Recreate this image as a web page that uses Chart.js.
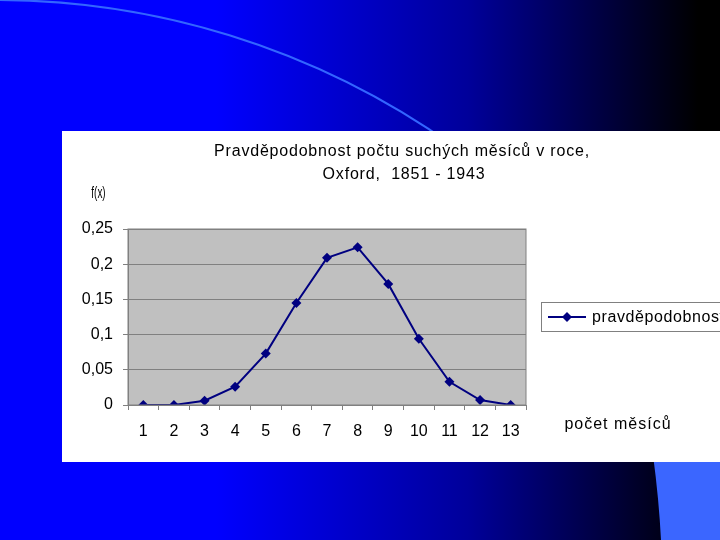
<!DOCTYPE html>
<html>
<head>
<meta charset="utf-8">
<script src="https://cdn.jsdelivr.net/npm/chart.js@4.4.1/dist/chart.umd.min.js"></script>
<style>
  html, body { margin: 0; padding: 0; background: #0000ff; }
  #wrap { width: 720px; height: 540px; position: relative; }
</style>
</head>
<body>
<div id="wrap"><canvas id="graf" width="720" height="540"></canvas></div>
<script>
const mesice = ['1', '2', '3', '4', '5', '6', '7', '8', '9', '10', '11', '12', '13']
const pravdepodobnost = [0, 0, 0.006, 0.026, 0.073, 0.145, 0.209, 0.224, 0.172, 0.094, 0.033, 0.007, 0]
const nazevRada = 'pravděpodobnost'
const titulek = ['Pravděpodobnost počtu suchých měsíců v roce,', 'Oxford,  1851 - 1943']
const osaY = 'f(x)'
const osaX = 'počet měsíců'

const pismo = '"Liberation Sans", Arial, sans-serif'
const modra = '#000080'

// pozadi slidu + bily ramecek
const pozadi = {
  id: 'pozadi',
  beforeDraw(chart) {
    const c = chart.ctx
    const { left, top, right, bottom } = chart.chartArea
    c.save()
    const g = c.createLinearGradient(0, 0, 720, 0)
    g.addColorStop(0.3, '#0000ff')
    g.addColorStop(0.65, '#00009a')
    g.addColorStop(0.97, '#000000')
    c.fillStyle = g
    c.fillRect(0, 0, 720, 540)

    // oblouk vlevo nahore
    c.strokeStyle = '#3366ff'
    c.lineWidth = 2
    c.beginPath()
    c.arc(-4, 790, 790, -Math.PI / 2 - 0.02, -Math.PI / 2 + 0.62)
    c.stroke()

    // svetle modra plocha vpravo dole
    c.fillStyle = '#3b66ff'
    c.beginPath()
    c.moveTo(653, 455)
    c.quadraticCurveTo(659, 500, 661, 540)
    c.lineTo(720, 540)
    c.lineTo(720, 455)
    c.closePath()
    c.fill()

    c.fillStyle = '#ffffff'
    c.fillRect(62, 131, 658, 331)

    c.fillStyle = '#c0c0c0'
    c.fillRect(left, top, right - left, bottom - top)
    c.restore()
  },
  afterDraw(chart) {
    const c = chart.ctx
    const { left, top, right, bottom } = chart.chartArea
    c.save()
    c.strokeStyle = '#808080'
    c.lineWidth = 1
    c.strokeRect(left, top, right - left, bottom - top)

    c.fillStyle = '#000000'
    c.font = '16px ' + pismo
    c.textAlign = 'center'
    c.textBaseline = 'middle'
    c.letterSpacing = '0.8px'
    c.fillText(titulek[0], 402, 152)
    c.fillText(titulek[1], 404, 175)
    c.letterSpacing = '1px'
    c.fillText(osaX, 618, 425)
    c.letterSpacing = '0px'

    // f(x) je v predloze uzke
    c.save()
    c.translate(98.5, 193)
    c.scale(0.62, 1.05)
    c.fillText(osaY, 0, 0)
    c.restore()

    // legenda
    c.strokeStyle = '#808080'
    c.strokeRect(541.5, 302.5, 190, 29)
    c.strokeStyle = modra
    c.lineWidth = 2
    c.beginPath()
    c.moveTo(548, 317)
    c.lineTo(586, 317)
    c.stroke()
    c.fillStyle = modra
    c.beginPath()
    c.moveTo(567, 312)
    c.lineTo(572, 317)
    c.lineTo(567, 322)
    c.lineTo(562, 317)
    c.closePath()
    c.fill()
    c.fillStyle = '#000000'
    c.textAlign = 'left'
    c.letterSpacing = '0.6px'
    c.fillText(chart.data.datasets[0].label, 592, 318)
    c.restore()
  }
}

new Chart(document.getElementById('graf'), {
  type: 'line',
  data: {
    labels: mesice,
    datasets: [{
      label: nazevRada,
      data: pravdepodobnost,
      borderColor: modra,
      backgroundColor: modra,
      borderWidth: 2,
      pointStyle: 'rectRot',
      pointRadius: 5,
      pointBorderWidth: 0,
      tension: 0
    }]
  },
  options: {
    responsive: false,
    animation: false,
    layout: { padding: { left: 0, top: 229, right: 194, bottom: 95 } },
    plugins: {
      legend: { display: false },
      title: { display: false },
      tooltip: { enabled: false }
    },
    scales: {
      x: {
        offset: true,
        afterFit: (s) => { s.height = 40 },
        grid: {
          offset: true,
          drawOnChartArea: false,
          drawTicks: true,
          tickLength: 5,
          color: '#808080'
        },
        border: { color: '#808080' },
        ticks: {
          color: '#000000',
          padding: 12,
          font: { family: pismo, size: 16 },
          maxRotation: 0,
          autoSkip: false
        }
      },
      y: {
        min: 0,
        max: 0.25,
        afterFit: (s) => { s.width = 128 },
        grid: { color: '#808080', tickLength: 5 },
        border: { color: '#808080' },
        ticks: {
          stepSize: 0.05,
          color: '#000000',
          padding: 10,
          font: { family: pismo, size: 16 },
          callback: (v) => String(Math.round(v * 100) / 100).replace('.', ',')
        }
      }
    }
  },
  plugins: [pozadi]
})
</script>
</body>
</html>
